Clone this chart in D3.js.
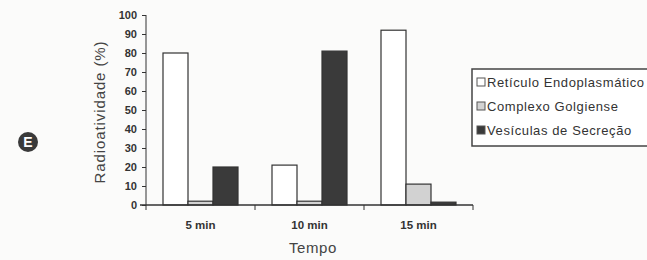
<!DOCTYPE html>
<html>
<head>
  <meta charset="utf-8">
  <script src="https://d3js.org/d3.v7.min.js"></script>
  <style>
    body { margin: 0; background: #fbfbfa; }
    text { font-family: 'Liberation Sans', Arial, sans-serif; }
  </style>
</head>
<body>
  <svg id="chart"></svg>
  <script>
    var width = 647;
    var height = 260;

    // values
    const categories = ["5 min", "10 min", "15 min"];
    const series = ["Retículo Endoplasmático", "Complexo Golgiense", "Vesículas de Secreção"];
    const reticulo = [80, 21, 92];
    const golgi = [2, 2, 11];
    const vesiculas = [20, 81, 1.5];
    const yTicks = [0, 10, 20, 30, 40, 50, 60, 70, 80, 90, 100];
    const colors = ["#ffffff", "#d2d2d2", "#3a3a3a"];

    const values = [reticulo, golgi, vesiculas];

    var svg = d3.select("#chart").attr("width", width).attr("height", height);

    var x0 = d3.scaleBand().domain(categories).range([146, 473]);
    var x1 = d3.scaleBand().domain(series).range([17, 92]);
    var y = d3.scaleLinear().domain([0, 100]).range([205, 15]);

    // bars
    categories.forEach((c, i) => {
      var g = svg.append("g").attr("transform", `translate(${x0(c)},0)`);
      series.forEach((s, j) => {
        var v = values[j][i];
        g.append("rect")
          .attr("x", x1(s))
          .attr("y", y(v))
          .attr("width", x1.bandwidth())
          .attr("height", y(0) - y(v))
          .attr("fill", colors[j])
          .attr("stroke", "#333")
          .attr("stroke-width", 1.2);
      });
    });

    // y axis
    var yAxis = svg.append("g")
      .attr("transform", "translate(146,0)")
      .call(d3.axisLeft(y).tickValues(yTicks).tickSize(4).tickPadding(5));
    yAxis.selectAll("text").attr("font-size", 11).attr("font-weight", "bold").attr("fill", "#333");
    yAxis.selectAll("line, path").attr("stroke", "#333");
    yAxis.select("path").attr("d", `M0,${y(0)}V${y(100)}`);

    // x axis, ticks at the band edges
    var xAxis = svg.append("g").attr("transform", `translate(0,${y(0)})`);
    xAxis.append("line").attr("x1", 140).attr("x2", 473).attr("y1", 0).attr("y2", 0)
      .attr("stroke", "#333").attr("stroke-width", 1.3);
    var edges = categories.map(c => x0(c)).concat([x0.range()[1]]);
    xAxis.selectAll(".edge").data(edges).enter().append("line")
      .attr("x1", d => d).attr("x2", d => d).attr("y1", 0).attr("y2", 5)
      .attr("stroke", "#333");
    xAxis.selectAll(".lbl").data(categories).enter().append("text")
      .attr("x", d => x0(d) + x0.bandwidth() / 2)
      .attr("y", 24)
      .attr("text-anchor", "middle")
      .attr("font-size", 11.5)
      .attr("font-weight", "bold")
      .attr("fill", "#333")
      .text(d => d);

    // axis titles
    svg.append("text")
      .attr("transform", "translate(105,112) rotate(-90)")
      .attr("text-anchor", "middle")
      .attr("font-size", 15)
      .attr("letter-spacing", 0.9)
      .attr("fill", "#444")
      .text("Radioatividade (%)");
    svg.append("text")
      .attr("x", 313).attr("y", 253)
      .attr("text-anchor", "middle")
      .attr("font-size", 15)
      .attr("letter-spacing", 0.6)
      .attr("fill", "#444")
      .text("Tempo");

    // legend
    var legend = svg.append("g").attr("transform", "translate(472,69)");
    legend.append("rect").attr("width", 190).attr("height", 77)
      .attr("fill", "#fff").attr("stroke", "#444").attr("stroke-width", 1.5);
    series.forEach((s, j) => {
      var row = legend.append("g").attr("transform", `translate(5,${13 + j * 24})`);
      row.append("rect").attr("x", 0).attr("y", -4).attr("width", 8).attr("height", 8)
        .attr("fill", colors[j]).attr("stroke", "#555");
      row.append("text").attr("x", 10).attr("y", 4.5)
        .attr("font-size", 13).attr("letter-spacing", 0.6)
        .attr("fill", "#333").text(s);
    });

    // panel marker
    var mark = svg.append("g").attr("transform", "translate(28,142)");
    mark.append("circle").attr("r", 10).attr("fill", "#3a3a3a");
    mark.append("text").attr("y", 5).attr("text-anchor", "middle")
      .attr("font-size", 14).attr("font-weight", "bold").attr("fill", "#fff").text("E");
  </script>
</body>
</html>
